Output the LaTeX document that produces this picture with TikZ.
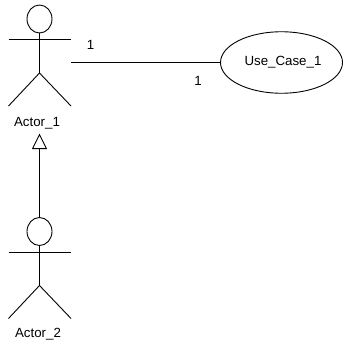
\documentclass[tikz,border=0pt]{standalone}
\usepackage{fontspec}
\setmainfont{Liberation Sans}
\usetikzlibrary{shapes.geometric,arrows.meta}
\tikzset{
  line/.style={draw=black,line width=0.9pt},
  lbl/.style={inner sep=0pt,font=\fontsize{13.3}{15}\selectfont,text=black},
  headshape/.style={ellipse,line,minimum width=25pt,minimum height=28pt,inner sep=0pt,outer sep=0pt},
  gen/.style={line,-{Triangle[open,fill=white,length=15.5pt,width=15pt,line width=0.9pt]}},
}
\newcommand{\stickman}[3]{%
  \node[headshape] (#1) at (#2,#3) {};
  \coordinate (#1hip) at (#2,#3+54);
  \draw[line] (#1.south) -- (#1hip);
  \draw[line] (#2-31,#3+20.5) -- (#2+31.5,#3+20.5);
  \draw[line] (#2-31,#3+87) -- (#1hip) -- (#2+31.5,#3+87);
}
\begin{document}
\begin{tikzpicture}[x=1pt,y=-1pt]
\useasboundingbox (0,0) rectangle (343,343);
\stickman{headA}{39.5}{19}
\stickman{headB}{39.5}{231.5}
\node[lbl] (labelA) at (37,123.5) {Actor\_1};
\node[lbl] (labelB) at (38,334.5) {Actor\_2};
\node[ellipse,line,minimum width=122pt,minimum height=61.5pt,inner sep=0pt,outer sep=0pt] (uc) at (281.5,62.5) {};
\node[lbl] (uctext) at (283,62.5) {Use\_Case\_1};
\coordinate (assocstart) at (71,62.5);
\draw[line] (assocstart) -- (uc.west);
\node[lbl] (m1) at (90.5,44.5) {1};
\node[lbl] (m2) at (198,80.5) {1};
\coordinate (genend) at (39.5,133.5);
\draw[gen] (headB.north) -- (genend);
\end{tikzpicture}
\end{document}
